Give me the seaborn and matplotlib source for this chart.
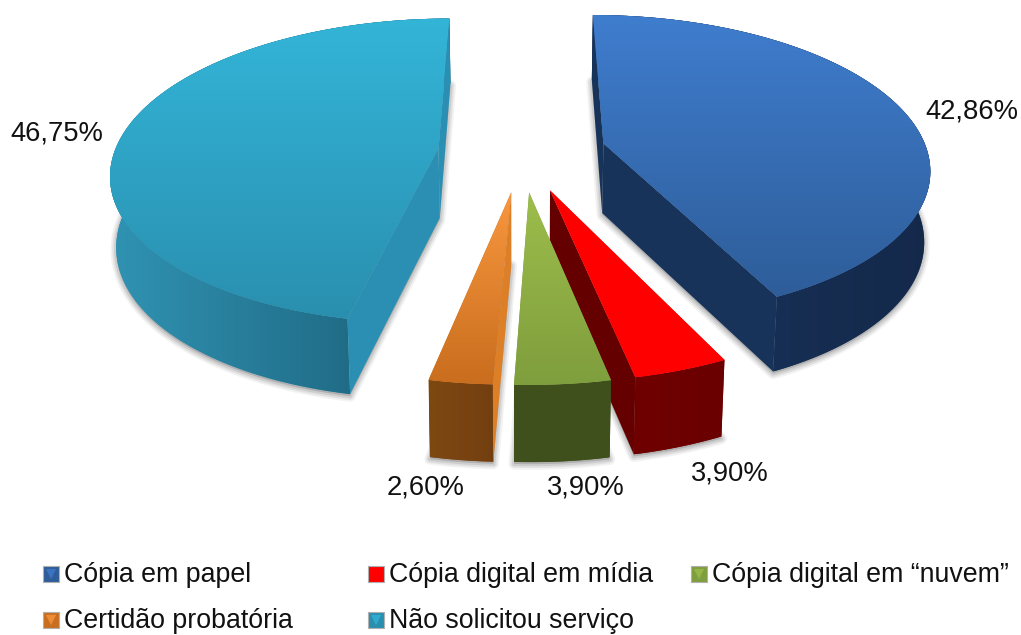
import numpy as np
import pandas as pd
import matplotlib
matplotlib.use("Agg")
import matplotlib.pyplot as plt
from matplotlib.patches import Polygon
from matplotlib.colors import LinearSegmentedColormap
import seaborn as sns

categories = ["Cópia em papel", "Cópia digital em mídia", "Cópia digital em “nuvem”",
              "Certidão probatória", "Não solicitou serviço"]
values = [42.86, 3.90, 3.90, 2.60, 46.75]

sns.set_theme(style="white")
plt.rcParams['font.family'] = ['Liberation Sans', 'DejaVu Sans']

top_light = ["#3F7DCE", "#FF0000", "#9DBD4C", "#F9973F", "#33B5D8"]
top_dark = ["#2E5D99", "#FF0000", "#7F9E3D", "#C96E1E", "#2A8FAF"]
wall_a = ["#1A3560", "#700000", "#3F511D", "#7E4812", "#3093B3"]
wall_b = ["#14294A", "#6A0000", "#3F501C", "#743F10", "#1A5C75"]
cut_col = ["#18335A", "#640000", "#3F511D", "#DD7F26", "#2A8FB2"]

cx, cy, A, a, k, D, e = 522.0, 152.0, 324.0, 150.0, 0.15, 70.0, 0.26


def project(X, Y, h=0.0):
    X, Y = np.asarray(X, float), np.asarray(Y, float)
    w = 1 + k * Y
    return np.column_stack([cx + A * X / w * (1 - 0.015 * h),
                            cy - a * Y / w + D * h / (1 + 0.5 * k * Y)])


def signed_area(p):
    x, y = p[:, 0], p[:, 1]
    return 0.5 * np.sum(x * np.roll(y, -1) - np.roll(x, -1) * y)


fig = plt.figure(figsize=(10.21, 6.35), dpi=100, facecolor="white")
ax = fig.add_axes([0, 0, 1, 1])


def grad(poly, c1, c2, horizontal=False, z=1):
    poly = np.asarray(poly)
    ax.add_patch(Polygon(poly, fc=c1 if horizontal else c2, ec="none", zorder=z))
    clip = Polygon(poly, fc="none", ec="none", transform=ax.transData)
    ax.add_patch(clip)
    g = np.linspace(0, 1, 256)
    g = g[None, :] if horizontal else g[:, None]
    x0, y0 = poly.min(axis=0)
    x1, y1 = poly.max(axis=0)
    cmap = LinearSegmentedColormap.from_list("g", [c1, c2])
    im = ax.imshow(g, extent=[x0, x1, y1, y0], aspect="auto", cmap=cmap, zorder=z + 0.1,
                   interpolation="bilinear")
    im.set_clip_path(clip)


fracs = np.array(values) / np.sum(values) * 2 * np.pi
ends = np.cumsum(fracs)
starts = ends - fracs
order = [0, 4, 1, 3, 2]
for n, i in enumerate(order):
    base = 2 + n * 2
    t = np.linspace(starts[i], ends[i], 160)
    m = (starts[i] + ends[i]) / 2
    ox, oy = e * np.sin(m), e * np.cos(m)
    X, Y = ox + np.sin(t), oy + np.cos(t)
    arc0, arc1 = project(X, Y, 0), project(X, Y, 1)
    ap0, ap1 = project([ox], [oy], 0), project([ox], [oy], 1)
    # soft shadow under the lower part of the slice
    lower = np.vstack([ap1, arc1])
    for lw, al in zip((8, 5.5, 3), (0.10, 0.14, 0.20)):
        ax.add_patch(Polygon(lower + [0, 2], fc="#808080", ec="#808080", lw=lw, alpha=al,
                             joinstyle="round", zorder=1))
    # outer wall
    grad(np.vstack([arc0, arc1[::-1]]), wall_a[i], wall_b[i], True, base)
    # cut faces: only those turned towards the viewer
    for j, sign in ((0, -1), (-1, 1)):
        face = np.vstack([ap0, arc0[j], arc1[j], ap1])
        if sign * signed_area(face) > 0:
            ax.add_patch(Polygon(face, fc=cut_col[i], ec="none", zorder=base + 0.5))
    # top face
    grad(np.vstack([ap0, arc0]), top_light[i], top_dark[i], False, base + 1)

label_x = [972, 730, 586, 426, 57]
label_y = [111, 473, 487, 487, 134]
for v, lx, ly in zip(values, label_x, label_y):
    ax.text(lx, ly, f"{v:.2f}%".replace(".", ","), ha="center", va="center",
            fontsize=19.7, color="#111111", zorder=30)

leg_x = [51, 376, 699, 51, 376]
leg_y = [574, 574, 574, 620, 620]
df = pd.DataFrame({"x": leg_x, "y": leg_y, "cat": categories})
sns.scatterplot(data=df, x="x", y="y", hue="cat", palette=dict(zip(categories, top_dark)),
                marker="s", s=125, edgecolor="#b0b0b0", linewidth=0.8, legend=False, ax=ax, zorder=30)
sns.scatterplot(data=df, x="x", y="y", hue="cat", palette=dict(zip(categories, top_light)),
                marker="v", s=55, linewidth=0, alpha=0.75, legend=False, ax=ax, zorder=31)
for c, lx, ly in zip(categories, leg_x, leg_y):
    ax.text(lx + 13, ly + 1.5, c, ha="left", va="center", fontsize=19.3, color="#111111", zorder=30)

ax.set_xlim(0, 1021)
ax.set_ylim(635, 0)
ax.set_aspect("auto")
ax.axis("off")
fig.savefig("out.png", dpi=100, facecolor="white")
